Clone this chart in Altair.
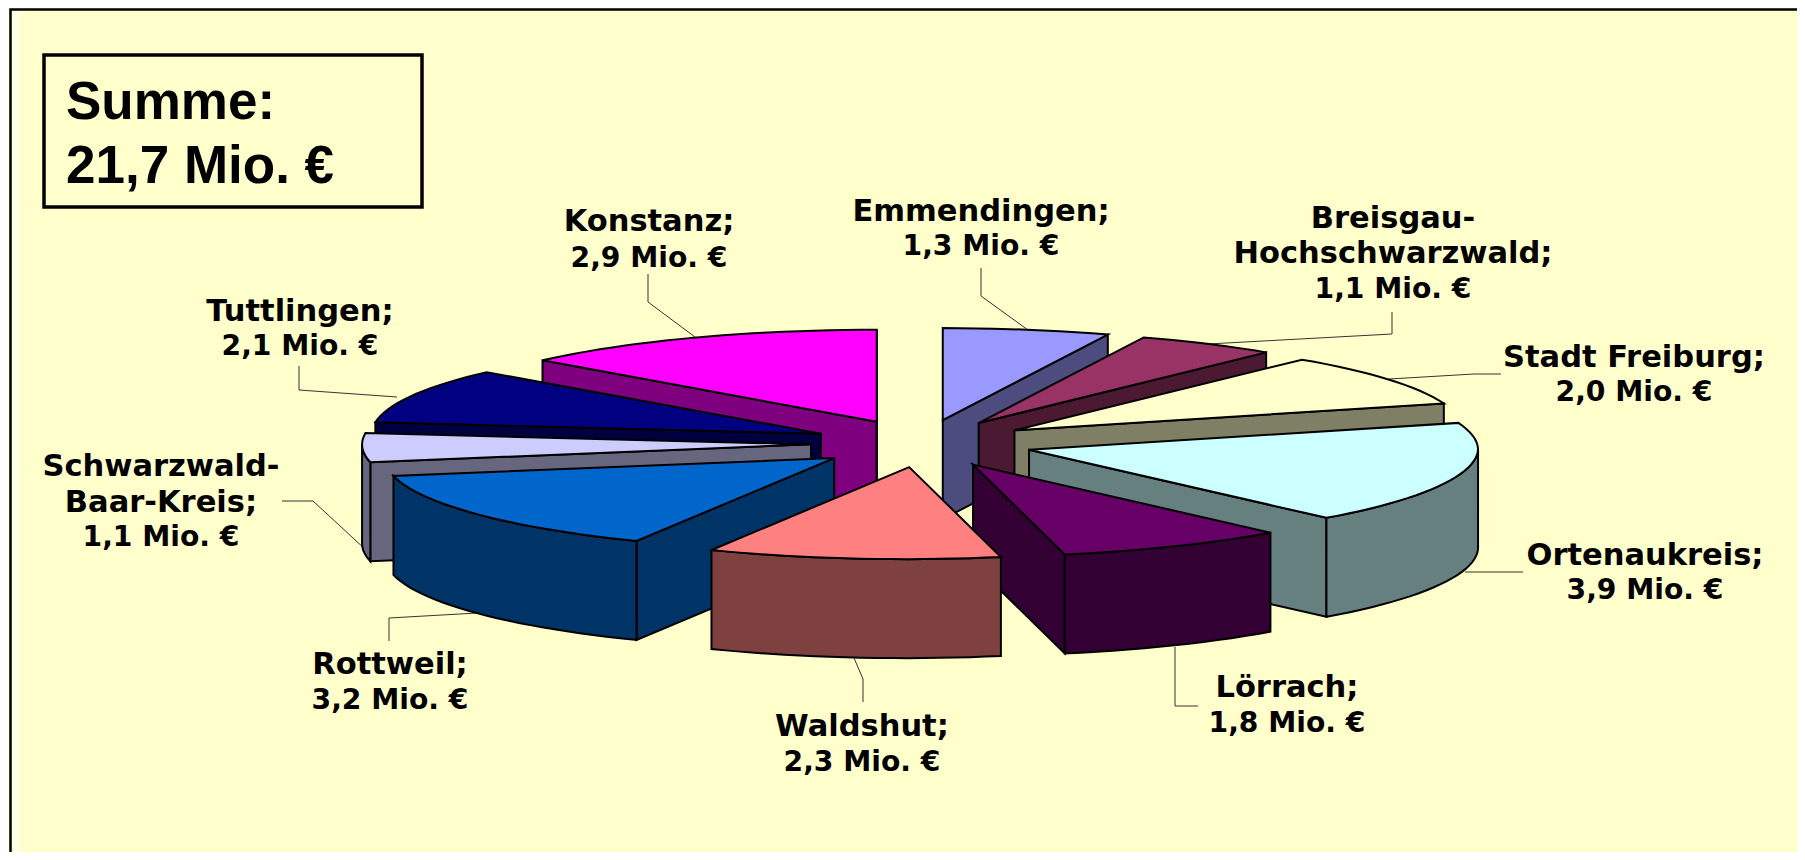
import math
import altair as alt
import pandas as pd

# ---------- chart data ----------
names = ["Emmendingen", "Breisgau-\nHochschwarzwald", "Stadt Freiburg", "Ortenaukreis", "Lörrach",
         "Waldshut", "Rottweil", "Schwarzwald-\nBaar-Kreis", "Tuttlingen", "Konstanz"]
values = [1.3, 1.1, 2.0, 3.9, 1.8, 2.3, 3.2, 1.1, 2.1, 2.9]
colors = ["#9999FF", "#993366", "#FFFFCC", "#CCFFFF", "#660066",
          "#FF8080", "#0066CC", "#CCCCFF", "#000080", "#FF00FF"]
summary = ["Summe:", "21,7 Mio. €"]

# ---------- layout ----------
W, H = 1789, 844
CX, CY, RX, RY, DEPTH, EXPLODE_X, EXPLODE_Y = 922, 443.5, 449, 92, 99, 111, 23.8
FRONT_SHRINK, FRONT_SHIFT = 3, 4.5
FONT_LABEL = "DejaVu Sans"
SIZE_NAME, SIZE_VALUE = 30.5, 28.2
label_xy = [(981, [212, 247]), (1393, [219, 254, 290]), (1634, [358, 393]), (1645, [556, 591]),
            (1287, [688, 724]), (862, [727, 763]), (390, [665, 701]), (161, [467, 503, 538]),
            (300, [312, 347]), (649, [222, 259])]
leaders = [[(981, 268), (981, 296), (1028, 330)], [(1392, 312), (1392, 334), (1208, 344)],
           [(1501, 374), (1474, 374), (1389, 379)], [(1523, 572), (1465, 572)],
           [(1175, 647), (1175, 706), (1198, 706)], [(854, 658), (863, 679), (863, 702)],
           [(495, 612), (389, 618), (389, 641)], [(282, 501), (313, 501), (366, 550)],
           [(299, 366), (299, 390), (397, 397)], [(648, 274), (648, 302), (695, 337)]]


def darken(c):
    return "#" + "".join(f"{int(c[i:i + 2], 16) // 2:02X}" for i in (1, 3, 5))


total = sum(values)
spans = []
cum = 0.0
for v in values:
    spans.append((cum / total * 360, (cum + v) / total * 360))
    cum += v

rows = []
face = [0]


def add_face(points, color):
    for k, (x, y) in enumerate(points):
        rows.append({"x": x, "y": y, "i": k, "face": face[0], "color": color})
    face[0] += 1


def arc(t0, t1):
    n = max(2, int((t1 - t0) / 2) + 1)
    return [t0 + (t1 - t0) * j / (n - 1) for j in range(n)]


order = sorted(range(len(values)),
               key=lambda s: -math.cos(math.radians(sum(spans[s]) / 2)))
for s in order:
    t0, t1 = spans[s]
    mid = math.radians((t0 + t1) / 2)
    ox = CX + EXPLODE_X * math.sin(mid)
    oy = CY - EXPLODE_Y * math.cos(mid)

    def rim(t, z=0):
        r = math.radians(t)
        front = max(0.0, -math.cos(r))
        rx = RX - FRONT_SHRINK * front
        return (ox + rx * math.sin(r) - FRONT_SHIFT * front, oy - RY * math.cos(r) + z)

    tip = (ox, oy)
    tipb = (ox, oy + DEPTH)
    dark = darken(colors[s])
    for t, nrm in ((t0, t0 - 90), (t1, t1 + 90)):
        if math.cos(math.radians(nrm)) < 0:
            add_face([tip, rim(t), rim(t, DEPTH), tipb], dark)
    a0, a1 = max(t0, 90), min(t1, 270)
    if a1 > a0:
        top = [rim(t) for t in arc(a0, a1)]
        bot = [rim(t, DEPTH) for t in reversed(arc(a0, a1))]
        add_face(top + bot, dark)
    add_face([tip] + [rim(t) for t in arc(t0, t1)], colors[s])

xs = alt.Scale(domain=[8, 8 + W], nice=False, zero=False)
ys = alt.Scale(domain=[8 + H, 8], nice=False, zero=False)
X = alt.X("x:Q", scale=xs, axis=None)
Y = alt.Y("y:Q", scale=ys, axis=None)

polys = alt.Chart(pd.DataFrame(rows)).mark_line(
    interpolate="linear-closed", stroke="black", strokeWidth=2, strokeJoin="miter", clip=False
).encode(x=X, y=Y, detail="face:N", order="i:Q",
         fill=alt.Fill("color:N", scale=None))

lead_rows = [{"x": x, "y": y, "i": k, "s": s}
             for s, pts in enumerate(leaders) for k, (x, y) in enumerate(pts)]
lead = alt.Chart(pd.DataFrame(lead_rows)).mark_line(stroke="#333333", strokeWidth=1).encode(
    x=X, y=Y, detail="s:N", order="i:Q")

name_rows, value_rows = [], []
for s, (n, v) in enumerate(zip(names, values)):
    name_lines = (n + ";").split("\n")
    lx, lys = label_xy[s]
    for t, ly in zip(name_lines, lys):
        name_rows.append({"x": lx, "y": ly, "t": t})
    value_rows.append({"x": lx, "y": lys[-1], "t": f"{v:.1f}".replace(".", ",") + " Mio. €"})
labels_n = alt.Chart(pd.DataFrame(name_rows)).mark_text(
    font=FONT_LABEL, fontWeight="bold", fontSize=SIZE_NAME, align="center", baseline="middle", color="black"
).encode(x=X, y=Y, text="t:N")
labels_v = alt.Chart(pd.DataFrame(value_rows)).mark_text(
    font=FONT_LABEL, fontWeight="bold", fontSize=SIZE_VALUE, align="center", baseline="middle", color="black"
).encode(x=X, y=Y, text="t:N")

# frame, pale strip and summary box
strip = alt.Chart(pd.DataFrame([{"x": 11, "x2": 20, "y": 11, "y2": 852}])).mark_rect(
    color="#FFFFE6", stroke=None).encode(x=X, x2="x2:Q", y=Y, y2="y2:Q")
frame_rows = [{"x": 10.5, "y": 852, "i": 0}, {"x": 10.5, "y": 9.5, "i": 1}, {"x": 1797, "y": 9.5, "i": 2}]
frame = alt.Chart(pd.DataFrame(frame_rows)).mark_line(stroke="black", strokeWidth=2.5).encode(
    x=X, y=Y, order="i:Q")
box = alt.Chart(pd.DataFrame([{"x": 44, "x2": 422, "y": 55, "y2": 207}])).mark_rect(
    fill="#FFFFCC", stroke="black", strokeWidth=3.5).encode(x=X, x2="x2:Q", y=Y, y2="y2:Q")
sum_rows = [{"x": 66, "y": 119, "t": summary[0]}, {"x": 66, "y": 183, "t": summary[1]}]
sum_text = alt.Chart(pd.DataFrame(sum_rows)).mark_text(
    font="Liberation Sans", fontWeight="bold", fontSize=53, align="left", baseline="alphabetic", color="black"
).encode(x=X, y=Y, text="t:N")

chart = alt.layer(strip, frame, box, sum_text, lead, polys, labels_n, labels_v).properties(
    width=W, height=H, background="#FFFFCC", padding=0,
    autosize=alt.AutoSizeParams(type="none")
).configure_view(stroke=None)

chart.save("out.html", embed_options={"renderer": "svg", "actions": False})
